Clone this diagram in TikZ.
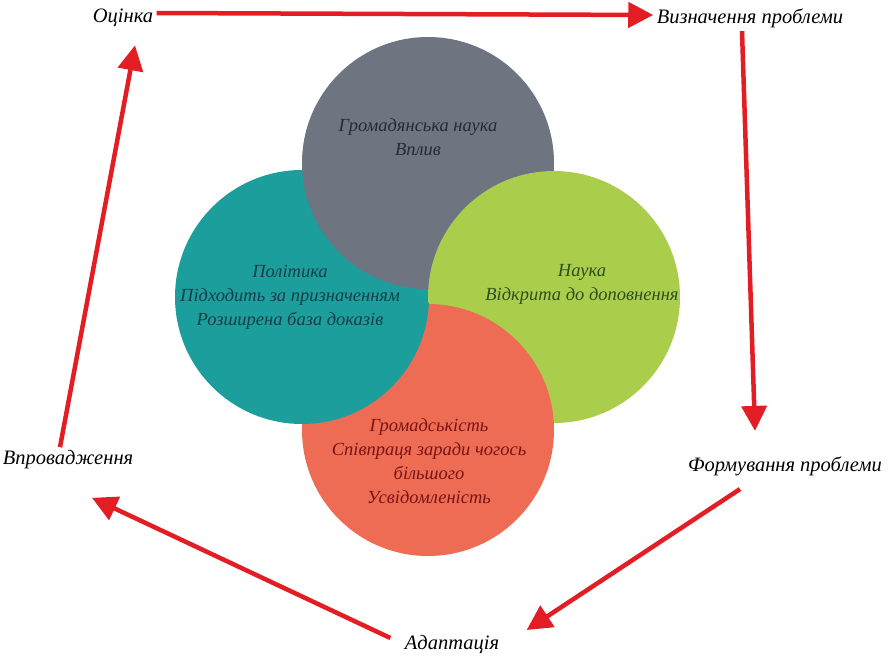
\documentclass[tikz,border=0pt]{standalone}
\usepackage{fontspec}
\setmainfont{Liberation Serif}
\usetikzlibrary{arrows.meta,positioning}
\definecolor{grayc}{RGB}{110,116,128}
\definecolor{tealc}{RGB}{27,158,156}
\definecolor{greenc}{RGB}{170,206,75}
\definecolor{orangec}{RGB}{238,108,84}
\definecolor{arrowred}{RGB}{226,30,36}
\definecolor{grayt}{RGB}{40,42,52}
\definecolor{tealt}{RGB}{22,62,72}
\definecolor{greent}{RGB}{45,78,32}
\definecolor{oranget}{RGB}{120,20,22}

\begin{document}
\begin{tikzpicture}[x=1pt,y=-1pt,
    lbl/.style={font=\itshape\fontsize{20.5}{24}\selectfont},
    txt/.style={align=center,font=\itshape\fontsize{18.5}{24}\selectfont},
    cyc/.style={draw=arrowred,line width=4.5pt,-{Triangle[length=25pt,width=25pt]}}]
	  \useasboundingbox (0,0) rectangle (889,656);
	  % four circles, each lying over the next
	  \fill[tealc] (302,297) circle [radius=127pt];
	  \fill[grayc] (428,163) circle [radius=126pt];
	  \fill[greenc] (554,297) circle [radius=126pt];
	  \fill[orangec] (428,430) circle [radius=126pt];
	  \begin{scope}
	    \clip (428,430) circle [radius=127.5pt];
	    \fill[tealc] (302,297) circle [radius=127pt];
	  \end{scope}
	  \node (C) [txt,text=grayt] at (418,137) {Громадянська наука\\Вплив};
	  \node (P) [txt,text=tealt] at (290,297) {Політика\\Підходить за призначенням\\Розширена база доказів};
	  \node (S) [txt,text=greent] at (582,284) {Наука\\Відкрита до доповнення};
	  \node (G) [txt,text=oranget] at (429,461) {Громадськість\\Співпраця заради чогось\\більшого\\Усвідомленість};
	  % cycle
	  \node (oc) [lbl] at (123,18) {Оцінка};
	  \node (viz) [lbl] at (750,18) {Визначення проблеми};
	  \node (form) [lbl] at (785,466) {Формування проблеми};
	  \node (adap) [lbl] at (452,644) {Адаптація};
	  \node (vpr) [lbl] at (68,460) {Впровадження};
	  \draw[cyc] ([yshift=5pt]oc.east) -- ([yshift=3pt]viz.west);
	  \draw[cyc] ([xshift=-8pt]viz.south) -- ([xshift=-30pt,yshift=22pt]form.north);
	  \draw[cyc] ([xshift=-45pt,yshift=-10pt]form.south) -- ([xshift=24pt,yshift=14pt]adap.east);
	  \draw[cyc] ([xshift=-11pt,yshift=6pt]adap.west) -- ([xshift=24pt,yshift=-25pt]vpr.south);
	  \draw[cyc] ([xshift=-8pt]vpr.north) -- ([xshift=12pt,yshift=-15pt]oc.south);
	\end{tikzpicture}
\end{document}
